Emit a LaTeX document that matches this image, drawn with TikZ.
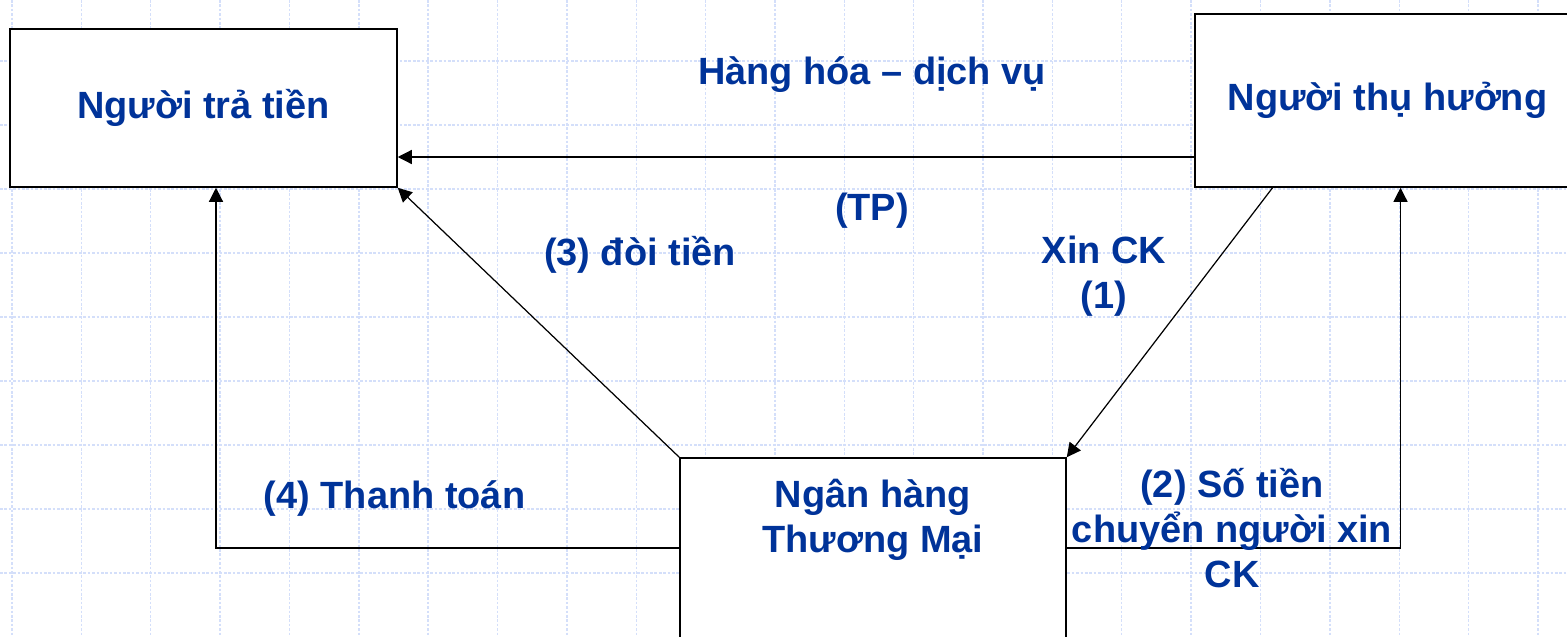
\documentclass[tikz,border=0pt]{standalone}
\usepackage{fontspec}
\setmainfont{Liberation Sans}
\usepackage{tikz}
\usetikzlibrary{arrows.meta}
\definecolor{txtblue}{RGB}{0,51,153}
\definecolor{gridblue}{RGB}{212,223,250}
\tikzset{%
	box/.style = {rectangle,draw,fill=white,line width=0.9pt,inner sep=0pt,align=center,text=txtblue,font=\fontsize{21.6}{25.5}\selectfont\bfseries},
	lbl/.style = {text=txtblue,align=center,inner sep=0pt,font=\fontsize{21.6}{25.5}\selectfont\bfseries},
	arr/.style = {-{Triangle[length=0.28cm,width=0.28cm]},line width=0.7pt},
	gridline/.style = {gridblue,line width=0.8pt,dash pattern=on 1.5pt off 1pt}%
}
\begin{document}
\begin{tikzpicture}[x=0.02cm,y=-0.02cm]
		
		\clip (0,0) rectangle (1567,636);
		\fill[white] (0,0) rectangle (1567,636);
		\foreach \i in {0,...,22}
			\draw[gridline] ({12+69.36*\i},0) -- ++(0,636);
		\foreach \j in {0,...,8}
			\draw[gridline] (0,{61+64*\j}) -- ++(1567,0);
		
		\node(payer)[box,minimum width=7.74cm,minimum height=3.16cm]at(203.5,108){Người trả tiền};
		\node(benef)[box,minimum width=7.7cm,minimum height=3.46cm]at(1387.5,100.5){Người thụ hưởng};
		\node(bank)[box,minimum width=7.72cm,minimum height=3.6cm]at(873,548){Ngân hàng\\Thương Mại\rule[-1.3cm]{0pt}{1cm}};
		
		\coordinate(tp)at(800,157);
		\draw[arr](benef.west |- tp)--(payer.east |- tp);
		\draw[arr](bank.north west)--(payer.south east);
		\draw[arr](bank.west)-|([xshift=0.25cm]payer.south);
		\draw[arr]([xshift=-2.3cm]benef.south)--(bank.north east);
		\draw[arr](bank.east)-|([xshift=0.26cm]benef.south);
		
		\node(goods)[lbl,anchor=base]at(872,84){Hàng hóa – dịch vụ};
		\node(tplbl)[lbl,anchor=base]at(872,220){(TP)};
		\node(claim)[lbl,anchor=base]at(640,265){(3) đòi tiền};
		\node(ask)[lbl]at(1104,276){Xin CK\\(1)};
		\node(pay)[lbl,anchor=base]at(394.5,508){(4) Thanh toán};
		\node(amount)[lbl]at(1232,528){(2) Số tiền\\chuyển người xin\\CK};
		\end{tikzpicture}
\end{document}
